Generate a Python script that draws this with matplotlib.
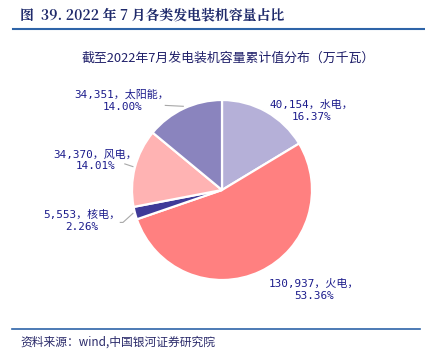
import matplotlib
matplotlib.use("Agg")
import matplotlib.pyplot as plt
from matplotlib.lines import Line2D

categories = ["水电", "火电", "核电", "风电", "太阳能"]
values = [40154, 130937, 5553, 34370, 34351]
percents = ["16.37%", "53.36%", "2.26%", "14.01%", "14.00%"]
colors = ["#B5B0D8", "#FF8080", "#3F3A98", "#FFB3B3", "#8A84BE"]

title_text = "截至2022年7月发电装机容量累计值分布（万千瓦）"
header_text = "图  39. 2022 年 7 月各类发电装机容量占比"
source_text = "资料来源：wind,中国银河证券研究院"

plt.rcParams['font.family'] = ['Noto Sans CJK SC', 'DejaVu Sans']

W, H = 425, 351
fig = plt.figure(figsize=(W/100, H/100), dpi=100)

# header
fig.text(20/W, 1-15/H, header_text, fontsize=10, fontweight='bold', color='#1F2A6B',
         va='center', ha='left', family=['Noto Serif CJK SC', 'Noto Sans CJK SC', 'DejaVu Serif'])
fig.add_artist(Line2D([13/W, 1.0], [1-29/H, 1-29/H], color='#2E64A8', lw=1.5, transform=fig.transFigure))
fig.add_artist(Line2D([12/W, 420/W], [1-328.5/H, 1-328.5/H], color='#2E64A8', lw=1.2, transform=fig.transFigure))
fig.text(20/W, 1-342/H, source_text, fontsize=8.5, color='#2A2A6A', style='italic',
         va='center', ha='left')
fig.text(228/W, 1-58/H, title_text, fontsize=9.3, color='#20206A', va='center', ha='center')

cx, cy, r = 222, 190, 90
ax = fig.add_axes([(cx-r)/W, (H-cy-r)/H, 2*r/W, 2*r/H])
wedges, _ = ax.pie(values, colors=colors, startangle=90, counterclock=False,
                   wedgeprops=dict(edgecolor='white', linewidth=1.6), radius=1.0)
ax.set_xlim(-1, 1)
ax.set_ylim(-1, 1)
ax.set_aspect('auto')

label_pos = [(0.99, 0.88), (1.02, -1.11), (-1.56, -0.34), (-1.41, 0.33), (-1.11, 0.99)]
for cat, v, p, (lx, ly) in zip(categories, values, percents, label_pos):
    ax.text(lx, ly, f"{v:,}，{cat}，\n{p}", ha='center', va='center', fontsize=7.9,
            color='#1C1C8C', linespacing=1.25, clip_on=False,
            family=['DejaVu Sans Mono', 'Noto Sans CJK SC'])

leaders = [
    ([-0.63, -0.43], [0.94, 0.93]),
    ([-1.08, -0.99], [0.29, 0.26]),
    ([-1.13, -1.10, -0.99], [-0.36, -0.36, -0.26]),
]
for xs, ys in leaders:
    ax.plot(xs, ys, color='#A8A8A8', lw=0.8, clip_on=False)

fig.savefig("out.png", dpi=100)
